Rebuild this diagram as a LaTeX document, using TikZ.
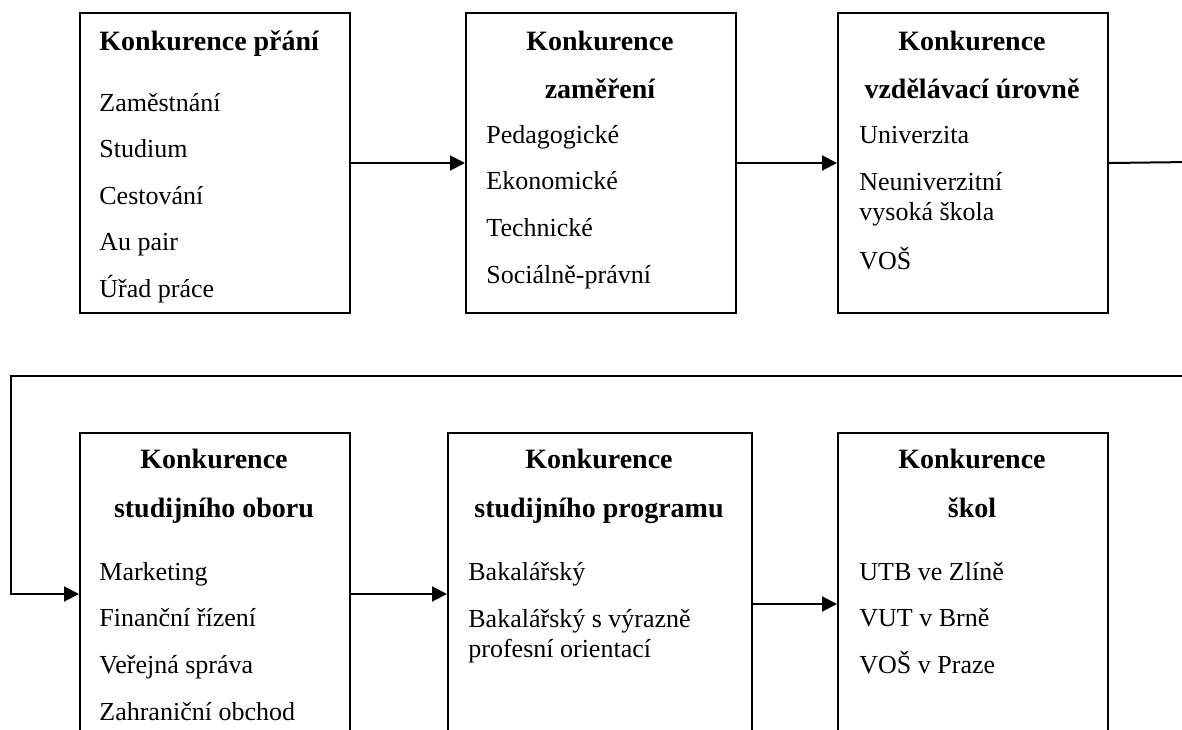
\documentclass[tikz,border=0pt]{standalone}
\usepackage{fontspec}
\setmainfont{Liberation Serif}
\usetikzlibrary{arrows.meta}
\usetikzlibrary{positioning}

\begin{document}
\begin{tikzpicture}[x=0.5pt,y=-0.5pt, node font=\fontsize{13pt}{15pt}\selectfont]

\tikzset{
  % frame of one kind of competition
  ramec/.style={draw, line width=1pt, rectangle, inner sep=0pt, anchor=north west,
    minimum width=#1, minimum height=150pt},
  ramec/.default=135pt,
  % bold heading, centred on its frame
  nadpis/.style={font=\fontsize{14pt}{16pt}\selectfont\bfseries, inner sep=0pt, anchor=base},
  % one line of the list
  polozka/.style={inner sep=0pt, anchor=base west},
  sipka/.style={line width=1pt, -{Triangle[length=7.5pt,width=7.5pt]}},
  spoj/.style={line width=1pt},
}

\clip (0,0) rectangle (1182,729);

% top row
\node [ramec] (b1) at (79,12) {};
\node [ramec] (b2) at (465,12) {};
\node [ramec] (b3) at (837,12) {};

\node [nadpis, anchor=base west] (n1) at (99,50) {Konkurence přání};
\foreach \t [count=\i] in {Zaměstnání, Studium, Cestování, Au pair, Úřad práce}
  \node [polozka] (p1-\i) at (99,{111+46.5*(\i-1)}) {\t};

\node [nadpis] (n2a) at (600,50) {Konkurence};
\node [nadpis] (n2b) at (600,98) {zaměření};
\foreach \t [count=\i] in {Pedagogické, Ekonomické, Technické, Sociálně-právní}
  \node [polozka] (p2-\i) at (486,{143+46.7*(\i-1)}) {\t};

\node [nadpis] (n3a) at (972,50) {Konkurence};
\node [nadpis] (n3b) at (972,98) {vzdělávací úrovně};
\node [polozka] (p3-1) at (859,143) {Univerzita};
\node [polozka] (p3-2) at (859,190) {Neuniverzitní};
\node [polozka] (p3-3) at (859,220) {vysoká škola};
\node [polozka] (p3-4) at (859,269) {VOŠ};

% bottom row
\node [ramec, minimum height=161pt] (b4) at (79,432) {};
\node [ramec=152pt, minimum height=161pt] (b5) at (447,432) {};
\node [ramec, minimum height=161pt] (b6) at (837,432) {};

\node [nadpis] (n4a) at (214,468) {Konkurence};
\node [nadpis] (n4b) at (214,517) {studijního oboru};
\foreach \t [count=\i] in {Marketing, Finanční řízení, Veřejná správa, Zahraniční obchod}
  \node [polozka] (p4-\i) at (99,{580+46.7*(\i-1)}) {\t};

\node [nadpis] (n5a) at (599,468) {Konkurence};
\node [nadpis] (n5b) at (599,517) {studijního programu};
\node [polozka] (p5-1) at (468,580) {Bakalářský};
\node [polozka] (p5-2) at (468,627) {Bakalářský s výrazně};
\node [polozka] (p5-3) at (468,657) {profesní orientací};

\node [nadpis] (n6a) at (972,468) {Konkurence};
\node [nadpis] (n6b) at (972,517) {škol};
\foreach \t [count=\i] in {UTB ve Zlíně, VUT v Brně, VOŠ v Praze}
  \node [polozka] (p6-\i) at (859,{580+46.7*(\i-1)}) {\t};

% connectors
\coordinate (rA) at (1190,162);
\coordinate (rB) at (1190,376);
\coordinate (lB) at (11,376);

\draw [sipka] (b1) -- (b2);
\draw [sipka] (b2) -- (b3);
\draw [spoj] (b3.east) -- (rA);
\draw [sipka] (rB) -- (lB) |- (b4.west);
\draw [sipka] (b4) -- (b5);
\draw [sipka] ([yshift=-5pt]b5.east) -- ([yshift=-5pt]b6.west);

\end{tikzpicture}
\end{document}
